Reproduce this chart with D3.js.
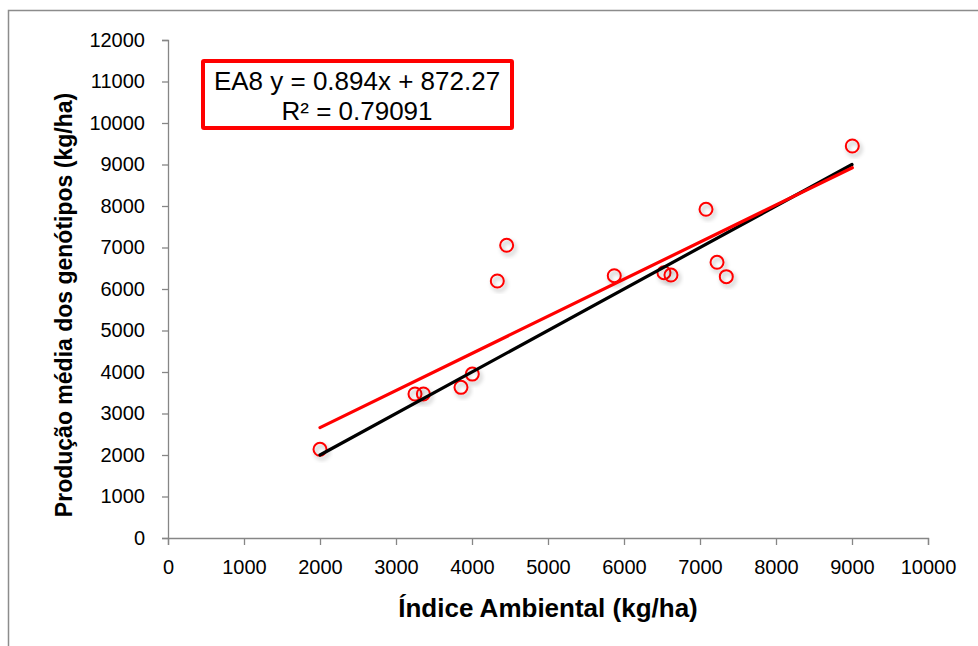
<!DOCTYPE html>
<html>
<head>
<meta charset="utf-8">
<script src="https://cdn.jsdelivr.net/npm/d3@7"></script>
<style>
  body { margin: 0; background: #fff; }
  text { font-family: "Liberation Sans", Arial, sans-serif; }
</style>
</head>
<body>
<div id="chart"></div>
<script>
// data
var indiceAmbiental = [2000, 3250, 3360, 3855, 4004, 4333, 4456, 5872, 6526, 6618, 7079, 7224, 7346, 9004];
var producaoMedia   = [2137, 3470, 3470, 3630, 3950, 6193, 7053, 6320, 6393, 6337, 7920, 6643, 6297, 9446];
var xTicks = [0, 1000, 2000, 3000, 4000, 5000, 6000, 7000, 8000, 9000, 10000];
var yTicks = [0, 1000, 2000, 3000, 4000, 5000, 6000, 7000, 8000, 9000, 10000, 11000, 12000];
var trendSlope = 0.894, trendIntercept = 872.27;
var linhaRef = [2000, 9000];   // 1:1 line ends
var legendLines = ["EA8 y = 0.894x + 872.27", "R\u00b2 = 0.79091"];

var W = 978, H = 646;
var svg = d3.select("#chart").append("svg")
    .attr("width", W).attr("height", H);

// shadow for the markers
var defs = svg.append("defs");
defs.append("filter").attr("id", "sh")
    .attr("x", "-50%").attr("y", "-50%").attr("width", "200%").attr("height", "200%")
  .append("feDropShadow")
    .attr("dx", 2).attr("dy", 3).attr("stdDeviation", 2)
    .attr("flood-color", "#000").attr("flood-opacity", 0.3);

// outer chart border
svg.append("path")
    .attr("d", "M8.5," + H + "V10.5H" + W)
    .attr("fill", "none").attr("stroke", "#8c8c8c").attr("stroke-width", 1.5);

var x = d3.scaleLinear().domain([0, 10000]).range([168, 928]);
var y = d3.scaleLinear().domain([0, 12000]).range([538, 40]);

// axes
var gx = svg.append("g")
    .attr("transform", "translate(0," + y(0) + ")")
    .call(d3.axisBottom(x).tickValues(xTicks).tickSize(7).tickPadding(15).tickFormat(d3.format("d")));
var gy = svg.append("g")
    .attr("transform", "translate(" + x(0) + ",0)")
    .call(d3.axisLeft(y).tickValues(yTicks).tickSize(6).tickPadding(17).tickFormat(d3.format("d")));

[gx, gy].forEach(function(g) {
  g.select(".domain").attr("stroke", "#868686").attr("stroke-width", 1.3);
  g.selectAll(".tick line").attr("stroke", "#868686").attr("stroke-width", 1.3);
  g.selectAll(".tick text")
    .attr("fill", "#000")
    .style("font-family", "Liberation Sans, Arial, sans-serif")
    .style("font-size", "20px");
});

// markers
svg.append("g").selectAll("circle")
    .data(indiceAmbiental)
  .enter().append("circle")
    .attr("cx", function(d) { return x(d); })
    .attr("cy", function(d, i) { return y(producaoMedia[i]); })
    .attr("r", 6.5)
    .attr("fill", "none")
    .attr("stroke", "#ff0000")
    .attr("stroke-width", 2)
    .attr("filter", "url(#sh)");

// 1:1 line (black) and trend line (red)
var line = d3.line()
    .x(function(d) { return x(d[0]); })
    .y(function(d) { return y(d[1]); });

svg.append("path")
    .datum(linhaRef.map(function(v) { return [v, v]; }))
    .attr("d", line)
    .attr("fill", "none").attr("stroke", "#000").attr("stroke-width", 3.2)
    .attr("stroke-linecap", "round");

var xmin = d3.min(indiceAmbiental), xmax = d3.max(indiceAmbiental);
svg.append("path")
    .datum([xmin, xmax].map(function(v) { return [v, trendSlope * v + trendIntercept]; }))
    .attr("d", line)
    .attr("fill", "none").attr("stroke", "#ff0000").attr("stroke-width", 3.2)
    .attr("stroke-linecap", "round");

// equation box
var box = svg.append("g");
box.append("rect")
    .attr("x", 203).attr("y", 61).attr("width", 309).attr("height", 67)
    .attr("fill", "#fff").attr("stroke", "#ff0000").attr("stroke-width", 4)
    .attr("rx", 1);
box.selectAll("text")
    .data(legendLines)
  .enter().append("text")
    .attr("x", 357)
    .attr("y", function(d, i) { return 90 + i * 30; })
    .attr("text-anchor", "middle")
    .style("font-size", "26px")
    .text(function(d) { return d; });

// axis titles
svg.append("text")
    .attr("x", (x(0) + x(10000)) / 2).attr("y", 617)
    .attr("text-anchor", "middle")
    .style("font-size", "26px").style("font-weight", "bold")
    .text("\u00cdndice Ambiental (kg/ha)");

svg.append("text")
    .attr("transform", "translate(72,305) rotate(-90)")
    .attr("text-anchor", "middle")
    .style("font-size", "23px").style("font-weight", "bold")
    .text("Produ\u00e7\u00e3o m\u00e9dia dos gen\u00f3tipos (kg/ha)");
</script>
</body>
</html>
